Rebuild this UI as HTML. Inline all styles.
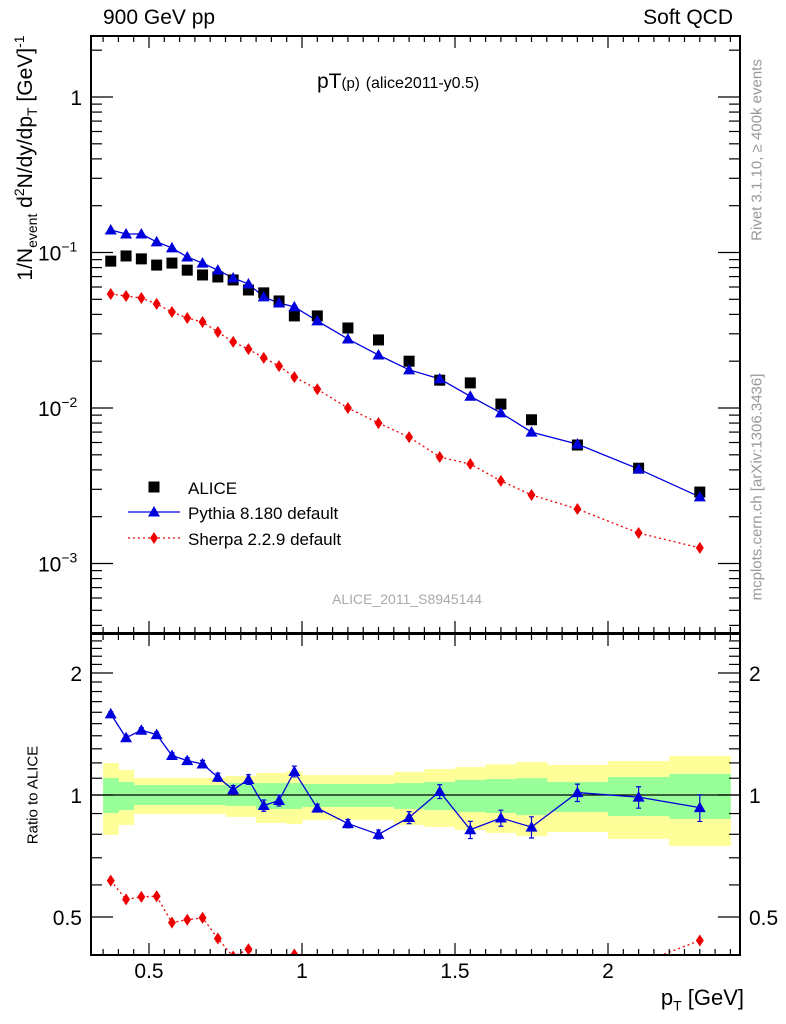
<!DOCTYPE html>
<html><head><meta charset="utf-8"><style>
html,body{margin:0;padding:0;background:#fff;}
svg{display:block;font-family:"Liberation Sans",Arial,sans-serif;}
</style></head><body>
<svg id="c" width="786" height="1024" viewBox="0 0 786 1024" xmlns="http://www.w3.org/2000/svg"></svg>
<script>
const binEdges=[0.35,0.4,0.45,0.5,0.55,0.6,0.65,0.7,0.75,0.8,0.85,0.9,0.95,1.0,1.1,1.2,1.3,1.4,1.5,1.6,1.7,1.8,2.0,2.2,2.4];
const pt=[0.375,0.425,0.475,0.525,0.575,0.625,0.675,0.725,0.775,0.825,0.875,0.925,0.975,1.05,1.15,1.25,1.35,1.45,1.55,1.65,1.75,1.9,2.1,2.3];
const alice=[0.088,0.095,0.091,0.083,0.0855,0.077,0.0717,0.0696,0.0666,0.0574,0.055,0.0488,0.0391,0.0391,0.0327,0.0274,0.020,0.0151,0.0145,0.0106,0.0084,0.00578,0.0041,0.00288];
const pythia=[0.1395,0.1315,0.1315,0.117,0.107,0.0936,0.0855,0.077,0.0686,0.0627,0.0518,0.0473,0.0447,0.0363,0.0278,0.0219,0.0176,0.0154,0.0119,0.0093,0.0070,0.00586,0.00405,0.00268];
const sherpa=[0.0541,0.0525,0.051,0.0467,0.0414,0.0379,0.0357,0.0308,0.0266,0.0239,0.021,0.0186,0.0158,0.0132,0.0100,0.0080,0.0065,0.00484,0.00436,0.0034,0.00276,0.00224,0.00157,0.00126];
const pyRatioErr=[0.02,0.02,0.02,0.02,0.02,0.02,0.025,0.025,0.025,0.03,0.03,0.03,0.035,0.02,0.02,0.02,0.03,0.04,0.04,0.04,0.05,0.05,0.06,0.07];
const yelHi=[1.199,1.152,1.101,1.101,1.101,1.101,1.101,1.101,1.114,1.114,1.133,1.133,1.146,1.12,1.12,1.12,1.14,1.159,1.172,1.19,1.206,1.186,1.213,1.248];
const yelLo=[0.797,0.843,0.898,0.898,0.898,0.898,0.898,0.898,0.883,0.883,0.853,0.853,0.848,0.868,0.868,0.868,0.843,0.834,0.82,0.806,0.792,0.81,0.779,0.749];
const grnHi=[1.101,1.077,1.058,1.058,1.058,1.058,1.058,1.058,1.07,1.07,1.07,1.07,1.07,1.065,1.065,1.065,1.07,1.077,1.09,1.095,1.1,1.077,1.108,1.127];
const grnLo=[0.903,0.918,0.945,0.945,0.945,0.945,0.945,0.945,0.94,0.94,0.924,0.924,0.924,0.934,0.934,0.934,0.924,0.918,0.908,0.903,0.892,0.908,0.887,0.873];
const xTicks=[0.5,1,1.5,2];
const xTickLabels=["0.5","1","1.5","2"];
const ratioTicks=[0.5,1,2];
const ratioTickLabels=["0.5","1","2"];

const NS="http://www.w3.org/2000/svg";
const svg=document.getElementById('c');
const L=91,R=740,T1=36,B1=633,T2=634,B2=955;
function X(v){return -4+306*v;}
function Y1(v){return 97-155.5*Math.log10(v);}
function Y2(v){return 795-122*Math.log2(v);}
function el(tag,attrs,parent){const e=document.createElementNS(NS,tag);for(const k in attrs)e.setAttribute(k,attrs[k]);(parent||svg).appendChild(e);return e;}
function txt(s,attrs,parent){const e=el('text',attrs,parent);e.textContent=s;return e;}

const bands=el('g',{});


for(let i=0;i<pt.length;i++){
  const x0=X(binEdges[i]),x1=X(binEdges[i+1]);
  const y=el('rect',{x:x0,y:Y2(yelHi[i]),width:x1-x0+0.5,height:Y2(yelLo[i])-Y2(yelHi[i]),fill:'#ffff99'},bands);
  
  
}
for(let i=0;i<pt.length;i++){
  const x0=X(binEdges[i]),x1=X(binEdges[i+1]);
  const g=el('rect',{x:x0,y:Y2(grnHi[i]),width:x1-x0+0.5,height:Y2(grnLo[i])-Y2(grnHi[i]),fill:'#99ff99'},bands);
  
  
}
el('line',{x1:L,x2:R,y1:Y2(1),y2:Y2(1),stroke:'#000','stroke-width':1.2});

const defs=el('defs',{});
const cp1=el('clipPath',{id:'c1'},defs);el('rect',{x:L,y:T1,width:R-L,height:B1-T1},cp1);
const cp2=el('clipPath',{id:'c2'},defs);el('rect',{x:L,y:T2,width:R-L,height:B2-T2},cp2);

function tri(g,x,y,name){const p=el('path',{d:`M${x},${y-6} L${x+6},${y+4.5} L${x-6},${y+4.5}Z`,fill:'#0000dd'},g);}
function dia(g,x,y,name){const p=el('path',{d:`M${x},${y-6} L${x+4},${y} L${x},${y+6} L${x-4},${y}Z`,fill:'#ee0000'},g);}
function sq(g,x,y,name){const p=el('rect',{x:x-5.5,y:y-5.5,width:11,height:11,fill:'#000'},g);}

const gm=el('g',{'clip-path':'url(#c1)'});


el('polyline',{points:pt.map((v,i)=>X(v)+','+Y1(sherpa[i])).join(' '),fill:'none',stroke:'#ee0000','stroke-width':1.3,'stroke-dasharray':'2,3'},gm);
el('polyline',{points:pt.map((v,i)=>X(v)+','+Y1(pythia[i])).join(' '),fill:'none',stroke:'#0000dd','stroke-width':1.3},gm);
pt.forEach((v,i)=>sq(gm,X(v),Y1(alice[i]),'alice-point'));
pt.forEach((v,i)=>tri(gm,X(v),Y1(pythia[i]),'pythia-point'));
pt.forEach((v,i)=>dia(gm,X(v),Y1(sherpa[i]),'sherpa-point'));

const gr=el('g',{'clip-path':'url(#c2)'});


const pr=pt.map((v,i)=>pythia[i]/alice[i]);
const sr=pt.map((v,i)=>sherpa[i]/alice[i]);
el('polyline',{points:pt.map((v,i)=>X(v)+','+Y2(sr[i])).join(' '),fill:'none',stroke:'#ee0000','stroke-width':1.3,'stroke-dasharray':'2,3'},gr);
el('polyline',{points:pt.map((v,i)=>X(v)+','+Y2(pr[i])).join(' '),fill:'none',stroke:'#0000dd','stroke-width':1.3},gr);
pt.forEach((v,i)=>{const x=X(v),a=Y2(pr[i]+pyRatioErr[i]),b=Y2(pr[i]-pyRatioErr[i]);
  el('path',{d:`M${x},${a}V${b}M${x-2.5},${a}H${x+2.5}M${x-2.5},${b}H${x+2.5}`,stroke:'#0000dd','stroke-width':1.2,fill:'none'},gr);
  tri(gr,x,Y2(pr[i]),'pythia-ratio-point');});
pt.forEach((v,i)=>dia(gr,X(v),Y2(sr[i]),'sherpa-ratio-point'));

el('rect',{x:L,y:T1,width:R-L,height:B1-T1,fill:'none',stroke:'#000','stroke-width':2});
el('rect',{x:L,y:T2,width:R-L,height:B2-T2,fill:'none',stroke:'#000','stroke-width':2});

const tk=el('g',{stroke:'#000','stroke-width':1.2});
for(let k=7;k<=48;k++){const v=k*0.05,x=X(v);if(x<=L||x>=R)continue;const maj=(k%10===0);const len=maj?12:6;
  [[T1,1],[B1,-1],[T2,1],[B2,-1]].forEach(([y,d])=>el('line',{x1:x,x2:x,y1:y,y2:y+d*len},tk));}
for(let e=-4;e<=0;e++)for(let m=1;m<=9;m++){const v=m*Math.pow(10,e),y=Y1(v);if(y<T1||y>B1)continue;const len=m===1?22:11;
  el('line',{x1:L,x2:L+len,y1:y,y2:y},tk);el('line',{x1:R,x2:R-len,y1:y,y2:y},tk);}
[0.4,0.5,0.6,0.7,0.8,0.9,1,1.1,1.2,1.3,1.4,1.5,1.6,1.7,1.8,1.9,2,2.1,2.2,2.3,2.4].forEach(v=>{const y=Y2(v);if(y<T2||y>B2)return;const maj=ratioTicks.includes(v);const len=maj?22:11;
  el('line',{x1:L,x2:L+len,y1:y,y2:y},tk);el('line',{x1:R,x2:R-len,y1:y,y2:y},tk);});

xTicks.forEach((v,i)=>{const t=txt(xTickLabels[i],{x:X(v),y:978,'font-size':21,'text-anchor':'middle'});});
ratioTicks.forEach((v,i)=>{const y=Y2(v)+8;
  const a=txt(ratioTickLabels[i],{x:L-9,y:y,'font-size':21,'text-anchor':'end'});
  const b=txt(ratioTickLabels[i],{x:R+9,y:y,'font-size':21,'text-anchor':'start'});});
const yl=txt('1',{x:82,y:Y1(1)+8,'font-size':21,'text-anchor':'end'});
[-1,-2,-3].forEach(e=>{const t=el('text',{x:38,y:Y1(Math.pow(10,e))+8,'font-size':21});t.innerHTML=`10<tspan dy="-9" font-size="14">−${-e}</tspan>`;});

const lg=el('g',{});


sq(lg,154,487,'legend-alice-marker');
txt('ALICE',{x:188,y:494,'font-size':17},lg);
el('line',{x1:128,x2:180,y1:512,y2:512,stroke:'#0000dd','stroke-width':1.3},lg);tri(lg,154,512,'legend-pythia-marker');
txt('Pythia 8.180 default',{x:188,y:519,'font-size':17},lg);
el('line',{x1:128,x2:180,y1:538,y2:538,stroke:'#ee0000','stroke-width':1.3,'stroke-dasharray':'2,3'},lg);dia(lg,154,538,'legend-sherpa-marker');
txt('Sherpa 2.2.9 default',{x:188,y:545,'font-size':17},lg);
</script>
<div style="position:absolute;left:0;top:0;width:786px;height:1024px;pointer-events:none;font-family:'Liberation Sans',Arial,sans-serif;">
<div style="position:absolute;left:103px;top:6px;font-size:21px;">900 GeV pp</div>
<div style="position:absolute;right:53px;top:6px;font-size:21px;">Soft QCD</div>
<div style="position:absolute;left:317px;top:70px;font-size:21px;">pT<span style="font-size:15px">(p)</span> <span style="font-size:16px">(alice2011-y0.5)</span></div>
<div style="position:absolute;left:332px;top:591px;font-size:14px;color:#aaa;">ALICE_2011_S8945144</div>
<div style="position:absolute;left:757px;top:150px;font-size:15px;color:#999;white-space:nowrap;transform:translate(-50%,-50%) rotate(-90deg);">Rivet 3.1.10, ≥ 400k events</div>
<div style="position:absolute;left:757px;top:487px;font-size:15px;color:#999;white-space:nowrap;transform:translate(-50%,-50%) rotate(-90deg);">mcplots.cern.ch [arXiv:1306.3436]</div>
<div style="position:absolute;left:26px;top:158px;font-size:21px;line-height:24px;white-space:nowrap;transform:translate(-50%,-50%) rotate(-90deg);">1/N<sub style="font-size:14px;line-height:0">event</sub> d<sup style="font-size:14px;line-height:0">2</sup>N/dy/dp<sub style="font-size:14px;line-height:0">T</sub> [GeV]<sup style="font-size:14px;line-height:0">-1</sup></div>
<div style="position:absolute;left:33px;top:795px;font-size:15px;white-space:nowrap;transform:translate(-50%,-50%) rotate(-90deg);">Ratio to ALICE</div>
<div style="position:absolute;right:42px;top:985px;font-size:22px;white-space:nowrap;">p<sub style="font-size:14px">T</sub> [GeV]</div>
</div>
</body></html>
